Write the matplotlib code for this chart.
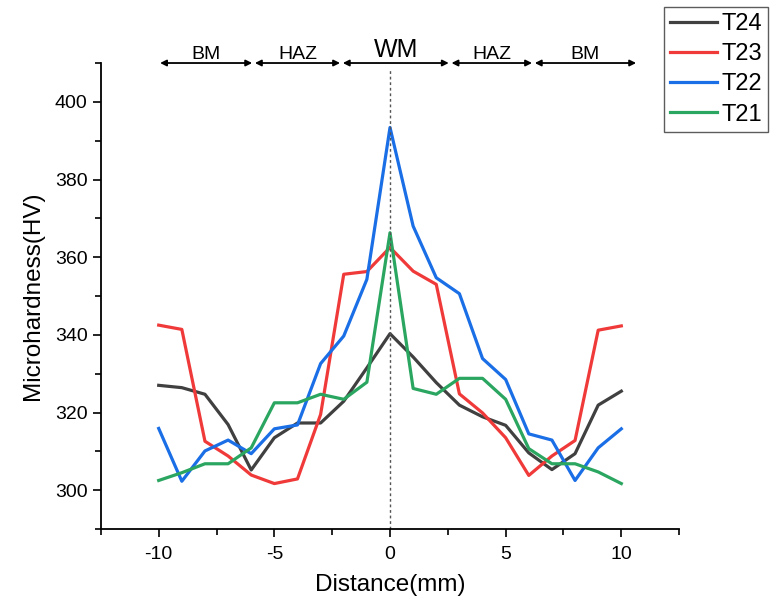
import matplotlib
matplotlib.use("Agg")
import matplotlib.pyplot as plt
from matplotlib.ticker import MultipleLocator

plt.rcParams['font.family'] = ['Liberation Sans', 'DejaVu Sans']
plt.rcParams['axes.unicode_minus'] = False

# distance from weld centre (mm)
distance = [-10, -9, -8, -7, -6, -5, -4, -3, -2, -1, 0,
            1, 2, 3, 4, 5, 6, 7, 8, 9, 10]

# microhardness (HV)
t24 = [327.0, 326.4, 324.7, 316.9, 305.2, 313.5, 317.3, 317.3, 322.9, 331.5, 340.3,
       334.3, 327.7, 321.9, 318.9, 316.7, 309.6, 305.3, 309.4, 321.9, 325.5]
t23 = [342.5, 341.4, 312.6, 308.8, 303.9, 301.7, 302.9, 319.5, 355.6, 356.3, 362.5,
       356.4, 353.0, 324.8, 319.9, 313.5, 303.8, 308.8, 312.8, 341.2, 342.3]
t22 = [315.9, 302.3, 310.1, 312.9, 309.4, 315.8, 316.8, 332.6, 339.7, 354.3, 393.4,
       368.0, 354.7, 350.6, 333.9, 328.5, 314.5, 312.9, 302.5, 310.9, 315.8]
t21 = [302.5, 304.5, 306.8, 306.8, 310.9, 322.5, 322.5, 324.7, 323.4, 327.8, 366.3,
       326.2, 324.7, 328.8, 328.8, 323.4, 310.7, 306.8, 306.8, 304.7, 301.7]

series_names = ['T24', 'T23', 'T22', 'T21']
series_colors = ['#404040', '#f03a3a', '#1a6ee6', '#2ba661']

# weld zones marked along the top of the plot
zone_labels = ['BM', 'HAZ', 'WM', 'HAZ', 'BM']
zone_edges = [-10, -5.9, -2.1, 2.6, 6.2, 10.7]


fig = plt.figure(figsize=(7.7, 6.03), dpi=100)
ax = fig.add_axes([0.131, 0.1227, 0.751, 0.7728])

for values, name, color in zip([t24, t23, t22, t21], series_names, series_colors):
    ax.plot(distance, values, color=color, lw=2.3, label=name)

ax.set_xlim(-12.5, 12.5)
ax.set_ylim(290, 410)
ax.xaxis.set_major_locator(MultipleLocator(5))
ax.xaxis.set_minor_locator(MultipleLocator(2.5))
ax.yaxis.set_minor_locator(MultipleLocator(10))
ax.set_yticks(range(300, 401, 20))

for side in ['top', 'right']:
    ax.spines[side].set_visible(False)
for side in ['left', 'bottom']:
    ax.spines[side].set_linewidth(1.3)

ax.tick_params(which='major', direction='out', length=6, width=1.2, labelsize=14)
ax.tick_params(which='minor', direction='out', length=4, width=1.2)
ax.tick_params(axis='x', pad=6)

ax.set_xlabel('Distance(mm)', fontsize=17.5, labelpad=8)
ax.set_ylabel('Microhardness(HV)', fontsize=17.5, labelpad=8)

# centre line of the weld
ax.axvline(0, ymax=0.985, color='#555555', lw=1, ls=(0, (2, 2)))

# zone arrows and labels
for i, label in enumerate(zone_labels):
    x0, x1 = zone_edges[i], zone_edges[i + 1]
    ax.annotate('', xy=(x1, 410), xytext=(x0, 410), annotation_clip=False,
                arrowprops=dict(arrowstyle='<|-|>', color='black', lw=1.3,
                                mutation_scale=9, shrinkA=1, shrinkB=1))
    if label == 'WM':
        ax.text((x0 + x1) / 2, 411.65, label, ha='center', va='baseline',
                fontsize=18, clip_on=False)
    else:
        ax.text((x0 + x1) / 2, 411.05, label, ha='center', va='baseline',
                fontsize=14, clip_on=False)

leg = fig.legend(loc='upper left', bbox_to_anchor=(664 / 770, 1 - 7 / 603),
                 fontsize=17, frameon=True, fancybox=False, edgecolor='#333333',
                 handlelength=2.0, handletextpad=0.2, labelspacing=0.35,
                 borderpad=0.25, borderaxespad=0)
leg.get_frame().set_linewidth(1.0)

fig.savefig('out.png', dpi=100)
